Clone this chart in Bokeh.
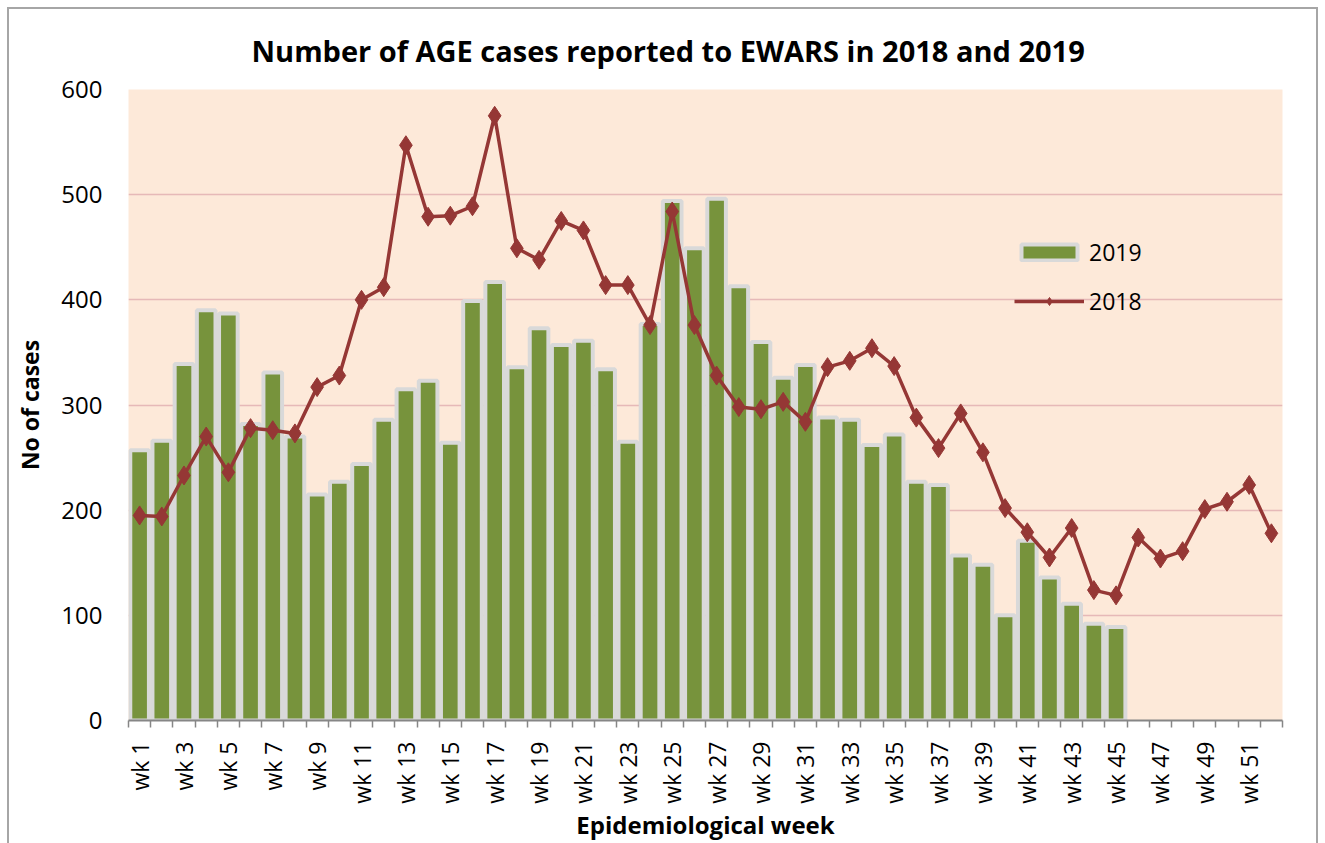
import math
from bokeh.plotting import figure
from bokeh.models import (Range1d, FixedTicker, Legend, LegendItem, ColumnDataSource)
from bokeh.embed import file_html
from bokeh.resources import INLINE

weeks = [f"wk {i}" for i in range(1, 53)]

cases_2019 = [257, 266, 339, 390, 387, 282, 331, 270, 215, 227,
              244, 286, 315, 323, 264, 399, 417, 336, 373, 357,
              361, 334, 265, 377, 494, 449, 496, 413, 360, 326,
              338, 288, 286, 262, 272, 227, 224, 157, 148, 100,
              171, 136, 111, 92, 89]

cases_2018 = [195, 194, 233, 270, 236, 278, 276, 273, 317, 328,
              400, 412, 547, 479, 480, 489, 575, 449, 438, 475,
              466, 414, 414, 376, 484, 376, 328, 298, 296, 303,
              284, 336, 342, 354, 337, 288, 259, 292, 255, 202,
              179, 155, 183, 124, 119, 174, 154, 161, 201, 208,
              224, 178]

y_ticks = [0, 100, 200, 300, 400, 500, 600]

FONT = "Open Sans"

x19 = list(range(1, len(cases_2019) + 1))
x18 = list(range(1, len(cases_2018) + 1))

p = figure(width=1325, height=843, output_backend="svg", toolbar_location=None,
           x_range=Range1d(0.5, 52.5), y_range=Range1d(0, 600),
           min_border_left=128, min_border_right=43, min_border_top=89, min_border_bottom=122,
           background_fill_color="#FDE9D9", border_fill_color=None)
p.outline_line_color = None
g = "linear-gradient(#A6A6A6,#A6A6A6)"
p.styles = {
    "background-color": "white",
    "background-image": f"{g}, {g}, {g}",
    "background-size": "2px 100%, 1311px 2px, 2px 100%",
    "background-position": "7px 8px, 7px 7px, 1316px 8px",
    "background-repeat": "no-repeat",
}

# title
p.title.text = "Number of AGE cases reported to EWARS  in 2018 and 2019"
p.title.text_font = FONT
p.title.text_font_size = "29px"
p.title.text_font_style = "bold"
p.title.text_color = "black"
p.title.align = "left"
p.title.offset = 123
p.title.standoff = 40

src19 = ColumnDataSource(dict(x=x19, y=cases_2019))
src18 = ColumnDataSource(dict(x=x18, y=cases_2018))

bars = p.vbar(x="x", top="y", width=0.84, bottom=0, source=src19,
              fill_color="#77933C", line_color="#D9D9D9", line_width=4)
line = p.line(x="x", y="y", source=src18, line_color="#953735", line_width=3.5)
pts = p.scatter(x="x", y="y", source=src18, marker="diamond", size=19,
                fill_color="#953735", line_color="#953735")

# axes
xa = p.xaxis[0]
odd = [i for i in range(1, 53, 2)]
xa.ticker = FixedTicker(ticks=odd, minor_ticks=[i + 0.5 for i in range(0, 53)])
xa.major_label_overrides = {i: weeks[i - 1] for i in odd}
xa.major_label_orientation = math.pi / 2
xa.major_label_text_font = FONT
xa.major_label_text_font_size = "23px"
xa.major_label_text_color = "black"
xa.major_tick_in = 0
xa.major_tick_out = 0
xa.minor_tick_in = 0
xa.minor_tick_out = 7
xa.minor_tick_line_color = "#868686"
xa.minor_tick_line_width = 1.5
xa.axis_line_color = "#868686"
xa.axis_line_width = 2
xa.major_label_standoff = 14
xa.axis_label = "Epidemiological week"
xa.axis_label_text_font = FONT
xa.axis_label_text_font_size = "24px"
xa.axis_label_text_font_style = "bold"
xa.axis_label_text_color = "black"
xa.axis_label_standoff = 1

ya = p.yaxis[0]
ya.ticker = FixedTicker(ticks=y_ticks)
ya.axis_line_color = None
ya.major_tick_in = 0
ya.major_tick_out = 0
ya.minor_tick_line_color = None
ya.major_label_text_font = FONT
ya.major_label_text_font_size = "24px"
ya.major_label_text_color = "black"
ya.major_label_standoff = 26
ya.axis_label = "No of cases"
ya.axis_label_text_font = FONT
ya.axis_label_text_font_size = "23px"
ya.axis_label_text_font_style = "bold"
ya.axis_label_text_color = "black"
ya.axis_label_standoff = 12

p.xgrid.grid_line_color = None
p.ygrid.grid_line_color = "#E6B9B8"
p.ygrid.grid_line_width = 1.5

legend = Legend(items=[LegendItem(label="2019", renderers=[bars]),
                       LegendItem(label="2018", renderers=[line, pts])],
                location=(886, 403), orientation="vertical",
                background_fill_alpha=0, border_line_color=None,
                label_text_font=FONT, label_text_font_size="23px", label_text_color="black",
                glyph_width=70, glyph_height=20, label_height=30, spacing=17,
                padding=0, margin=0, label_standoff=5)
p.add_layout(legend)

open("out.html", "w").write(file_html(p, INLINE))
